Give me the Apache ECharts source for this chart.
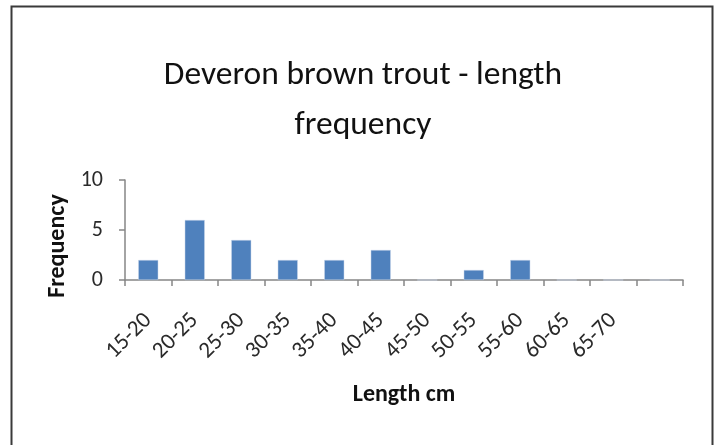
<!DOCTYPE html>
<html>
<head>
<meta charset="utf-8">
<script src="https://cdn.jsdelivr.net/npm/echarts@6/dist/echarts.min.js"></script>
<style>
html,body{margin:0;padding:0;background:#fff;}
#c{width:721px;height:445px;}
</style>
</head>
<body>
<div id="c"></div>
<script>
var titleText = 'Deveron brown trout - length\nfrequency';
var categories = ['15-20','20-25','25-30','30-35','35-40','40-45','45-50','50-55','55-60','60-65','65-70',''];
var frequency = [2, 6, 4, 2, 2, 3, 0, 1, 2, 0, 0, 0];
var yTicks = [0, 5, 10];
var xName = 'Length cm';
var yName = 'Frequency';

var FONT = 'Carlito, Lato, sans-serif';
var chart = echarts.init(document.getElementById('c'), null, {renderer: 'canvas'});
chart.setOption({
  animation: false,
  backgroundColor: '#ffffff',
  title: {
    text: titleText,
    left: 358,
    top: 46,
    textAlign: 'center',
    textStyle: {fontFamily: FONT, fontSize: 33.5, fontWeight: 'normal', color: '#111111', lineHeight: 50}
  },
  graphic: [{
    type: 'rect',
    shape: {x: 11.5, y: 6.5, width: 701, height: 460},
    style: {fill: null, stroke: '#3a3a3a', lineWidth: 2},
    silent: true
  }],
  grid: {left: 125, right: 38, top: 180, bottom: 165},
  xAxis: {
    type: 'category',
    data: categories,
    name: xName,
    nameLocation: 'middle',
    nameGap: 103,
    nameTextStyle: {fontFamily: FONT, fontSize: 24, fontWeight: 'bold', color: '#111111'},
    axisLine: {lineStyle: {color: '#868686', width: 1.5}},
    axisTick: {show: true, interval: 0, length: 6, lineStyle: {color: '#868686', width: 1.5}},
    axisLabel: {interval: 0, rotate: 45, margin: 37, fontFamily: FONT, fontSize: 23, color: '#2a2a2a'}
  },
  yAxis: {
    type: 'value',
    min: yTicks[0],
    max: yTicks[yTicks.length - 1],
    interval: yTicks[1] - yTicks[0],
    name: yName,
    nameLocation: 'middle',
    nameRotate: 90,
    nameGap: 52,
    nameTextStyle: {fontFamily: FONT, fontSize: 24, fontWeight: 'bold', color: '#111111', padding: [0, 32, 0, 0]},
    splitLine: {show: false},
    axisLine: {show: true, lineStyle: {color: '#868686', width: 1.5}},
    axisTick: {show: true, length: 6, lineStyle: {color: '#868686', width: 1.5}},
    axisLabel: {margin: 22, fontFamily: FONT, fontSize: 22, color: '#2a2a2a'}
  },
  series: [{
    type: 'bar',
    data: frequency,
    barWidth: 20,
    itemStyle: {color: '#4F81BD', borderColor: '#c9d6ea', borderWidth: 0.5}
  }]
});
</script>
</body>
</html>
